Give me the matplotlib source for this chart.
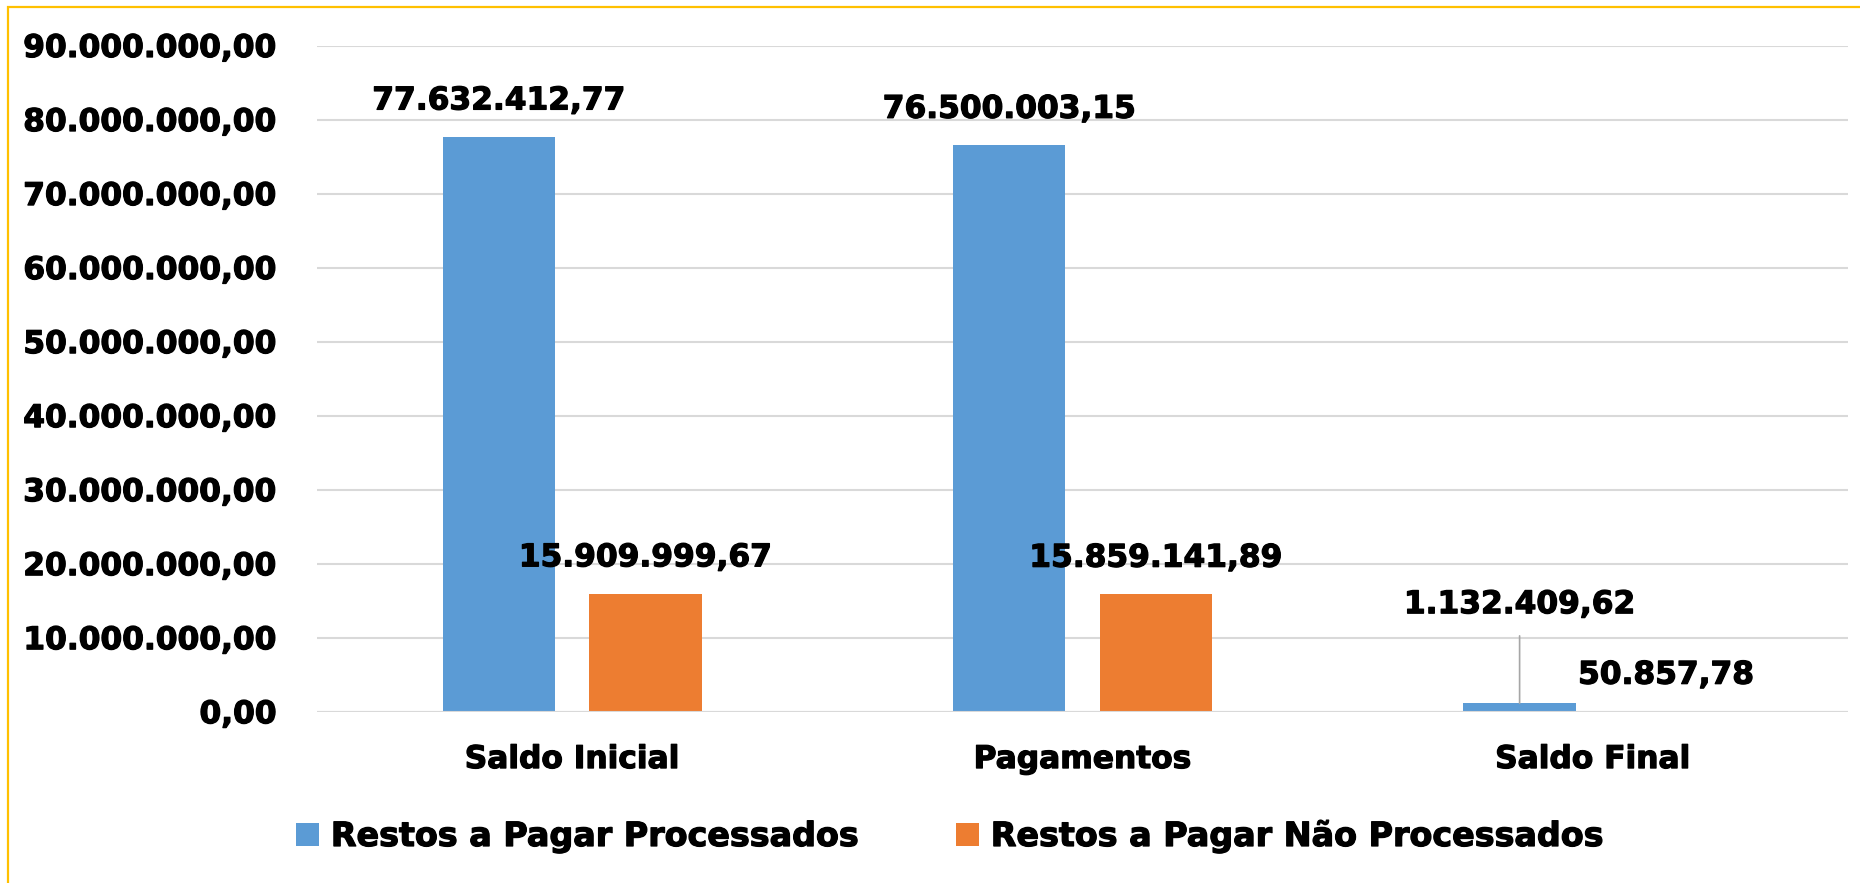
import matplotlib.pyplot as plt
import matplotlib.patches as patches
import matplotlib.patheffects as pe
import numpy as np

# Dados do gráfico
categorias = ["Saldo Inicial", "Pagamentos", "Saldo Final"]
processados = [77632412.77, 76500003.15, 1132409.62]
nao_processados = [15909999.67, 15859141.89, 50857.78]
series = ["Restos a Pagar Processados", "Restos a Pagar Não Processados"]
yticks = np.arange(0, 90000001, 10000000)

azul = "#5B9BD5"
laranja = "#ED7D31"
cinza_grade = "#D9D9D9"


def fmt_br(v):
    # formato brasileiro: 1.234.567,89
    return f"{v:,.2f}".replace(",", "X").replace(".", ",").replace("X", ".")


plt.rcParams["font.family"] = ["DejaVu Sans"]
plt.rcParams["font.weight"] = "bold"

# traço leve para deixar o texto mais pesado, como no original
grosso = [pe.withStroke(linewidth=0.9, foreground="black")]

fig = plt.figure(figsize=(18.6, 8.83), dpi=100)
ax = fig.add_axes([317 / 1860, 1 - 711.7 / 883, (1848 - 317) / 1860, (711.7 - 45.5) / 883])

x = np.arange(len(categorias))
w = 0.22
off = 0.1435
ax.bar(x - off, processados, w, color=azul, label=series[0], zorder=3)
ax.bar(x + off, nao_processados, w, color=laranja, label=series[1], zorder=3)

ax.set_xlim(-0.5, 2.5)
ax.set_ylim(0, 90000000)
ax.set_yticks(yticks)
ax.set_yticklabels([fmt_br(v) for v in yticks], fontsize=22.5, fontweight="bold")
ax.set_xticks(x)
ax.set_xticklabels(categorias, fontsize=22.5, fontweight="bold")
ax.tick_params(axis="y", length=0, pad=29)
ax.tick_params(axis="x", length=0, pad=24)
ax.set_axisbelow(True)
ax.grid(axis="y", color=cinza_grade, lw=1.5)
ax.axhline(0, color=cinza_grade, lw=1.5, zorder=4)  # linha de base por cima
for s in ax.spines.values():
    s.set_visible(False)
for t in ax.get_xticklabels() + ax.get_yticklabels():
    t.set_path_effects(grosso)

# Rótulos de dados
for i in range(len(categorias)):
    for xs, vals in ((x - off, processados), (x + off, nao_processados)):
        v = vals[i]
        if vals is processados and i == 2:
            # rótulo deslocado com linha de chamada
            t = ax.annotate(fmt_br(v), xy=(xs[i], v), xytext=(0, 71), textcoords="offset points",
                            ha="center", va="center", fontsize=22.5, fontweight="bold",
                            arrowprops=dict(arrowstyle="-", color="#A6A6A6", lw=1.2,
                                            shrinkA=10, shrinkB=0))
        else:
            t = ax.annotate(fmt_br(v), xy=(xs[i], v), xytext=(0, 26), textcoords="offset points",
                            ha="center", va="center", fontsize=22.5, fontweight="bold")
        t.set_path_effects(grosso)

leg = fig.legend(loc="center", bbox_to_anchor=(950 / 1860, 1 - 836 / 883), ncol=2, frameon=False,
                 prop={"size": 24, "weight": "bold"}, handlelength=0.7, handleheight=0.7,
                 handletextpad=0.35, columnspacing=2.9)
for t in leg.get_texts():
    t.set_path_effects(grosso)

# Moldura amarela
fig.patches.append(patches.Rectangle((8 / 1860, -0.1), 1.2, 1.1 - 7 / 883, transform=fig.transFigure,
                                     fill=False, edgecolor="#FFC000", lw=1.6))

fig.savefig("out.png", dpi=100)
